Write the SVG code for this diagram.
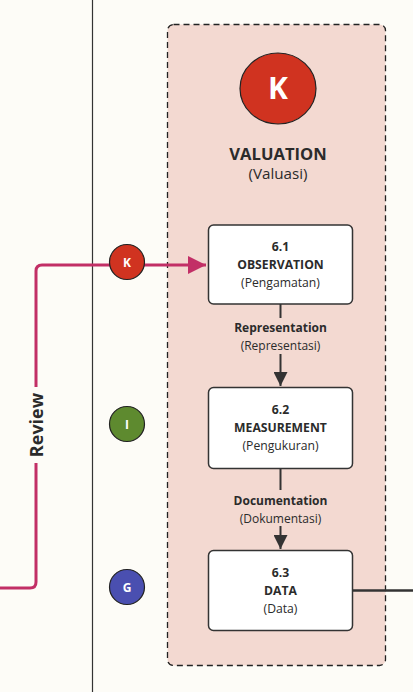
<svg xmlns="http://www.w3.org/2000/svg" width="413" height="692" viewBox="0 0 413 692">
<defs>
<style>
text{font-family:"Open Sans","Noto Sans","Liberation Sans",sans-serif;fill:#2b2b2b;text-anchor:middle}
.b{font-weight:bold}
.box{fill:#fff;stroke:#333;stroke-width:1.5}
.edge{stroke:#333;stroke-width:2;fill:none}
.badge{stroke:#222;stroke-width:1.2}
.bt{fill:#fff;font-weight:bold;font-size:12px}
.nt{font-size:12.2px}
.et{font-size:12px}
</style>
<marker id="ah" viewBox="0 0 10 10" refX="10" refY="5" markerWidth="14" markerHeight="14" markerUnits="userSpaceOnUse" orient="auto"><path d="M0,0L10,5L0,10Z" fill="#333"/></marker>
<marker id="ahp" viewBox="0 0 10 10" refX="10" refY="5" markerWidth="18" markerHeight="18" markerUnits="userSpaceOnUse" orient="auto"><path d="M0,0L10,5L0,10Z" fill="#c22f66"/></marker>
</defs>
<rect width="413" height="692" fill="#fdfcf7"/>
<line x1="92.5" y1="0" x2="92.5" y2="692" stroke="#333" stroke-width="1.2"/>
<g id="valuation">
<rect x="167.5" y="24.5" width="218" height="641" rx="6" fill="#f3d9d1" stroke="#222" stroke-width="1.3" stroke-dasharray="6,4"/>
<ellipse cx="278" cy="88.5" rx="38" ry="35.5" fill="#d03320" stroke="#222" stroke-width="1.2"/>
<text x="278" y="99" style="fill:#fff;font-weight:bold;font-size:30px">K</text>
<text x="278" y="160" class="b" style="font-size:16.6px">VALUATION</text>
<text x="278" y="179" style="font-size:15.2px">(Valuasi)</text>
</g>
<g id="connectors">
<path d="M0,588 H30 Q36,588 36,582 V463" fill="none" stroke="#c22f66" stroke-width="3"/>
<path d="M36,387 V271 Q36,265 42,265 H206" fill="none" stroke="#c22f66" stroke-width="3" marker-end="url(#ahp)"/>
<text x="0" y="0" transform="translate(42.5,425) rotate(-90)" class="b" style="font-size:18px">Review</text>
<line x1="280.5" y1="304" x2="280.5" y2="318" class="edge"/>
<line x1="280.5" y1="354" x2="280.5" y2="386" class="edge" marker-end="url(#ah)"/>
<text x="280.5" y="332" class="b et">Representation</text>
<text x="280.5" y="350" class="et">(Representasi)</text>
<line x1="280.5" y1="469" x2="280.5" y2="490" class="edge"/>
<line x1="280.5" y1="526" x2="280.5" y2="549" class="edge" marker-end="url(#ah)"/>
<text x="280.5" y="505" class="b et">Documentation</text>
<text x="280.5" y="523" class="et">(Dokumentasi)</text>
<line x1="353" y1="590.5" x2="413" y2="590.5" stroke="#333" stroke-width="2.5"/>
</g>
<g id="badge-k"><circle cx="127" cy="262" r="17.5" fill="#d03320" class="badge"/><text x="127" y="266.5" class="bt">K</text></g>
<g id="badge-i"><circle cx="127" cy="424" r="17.5" fill="#5e8a2f" class="badge"/><text x="127" y="428.5" class="bt">I</text></g>
<g id="badge-g"><circle cx="127" cy="587" r="17.5" fill="#4a4fb0" class="badge"/><text x="127" y="591.5" class="bt">G</text></g>
<g id="n61">
<rect x="208.5" y="225" width="144" height="79" rx="5" class="box"/>
<text x="280.5" y="251" class="b nt">6.1</text>
<text x="280.5" y="269" class="b nt">OBSERVATION</text>
<text x="280.5" y="287" class="nt">(Pengamatan)</text>
</g>
<g id="n62">
<rect x="208.5" y="387.5" width="144" height="81" rx="5" class="box"/>
<text x="280.5" y="414" class="b nt">6.2</text>
<text x="280.5" y="432" class="b nt">MEASUREMENT</text>
<text x="280.5" y="450" class="nt">(Pengukuran)</text>
</g>
<g id="n63">
<rect x="208.5" y="550.5" width="144" height="80" rx="5" class="box"/>
<text x="280.5" y="577" class="b nt">6.3</text>
<text x="280.5" y="595" class="b nt">DATA</text>
<text x="280.5" y="613" class="nt">(Data)</text>
</g>
</svg>
